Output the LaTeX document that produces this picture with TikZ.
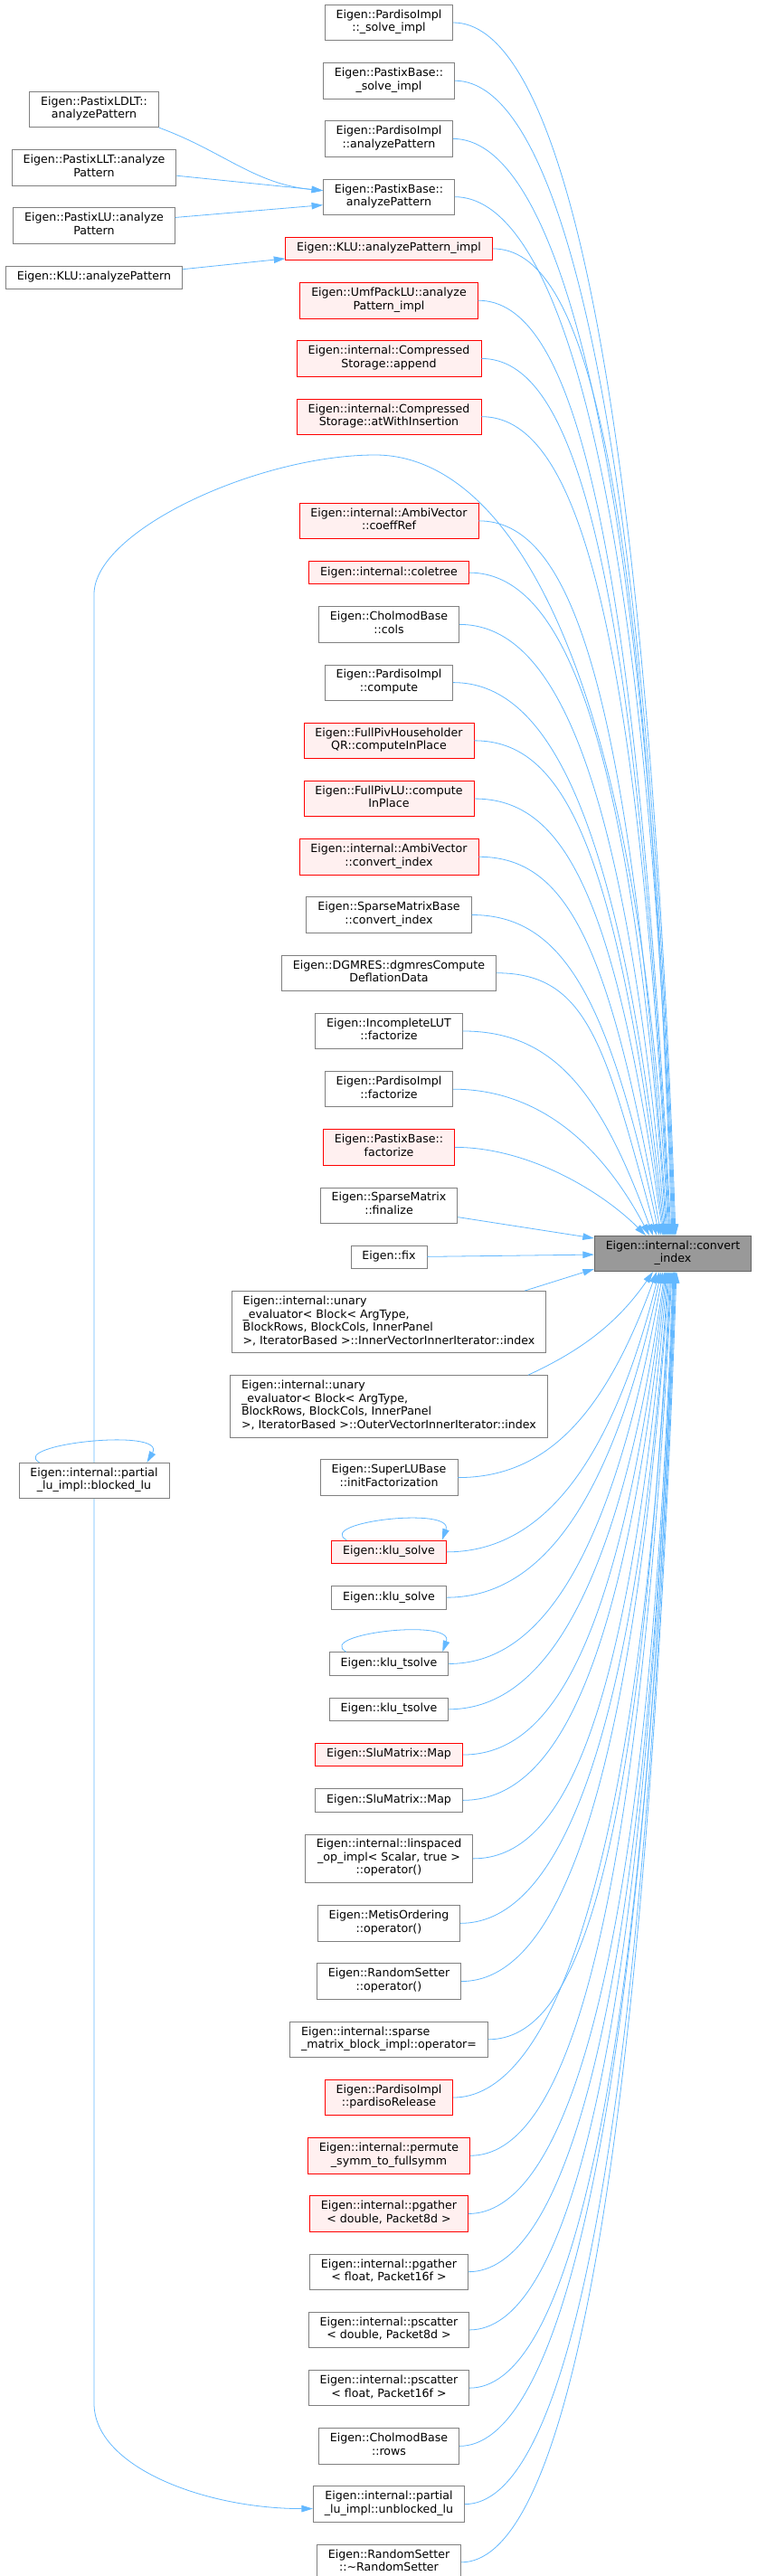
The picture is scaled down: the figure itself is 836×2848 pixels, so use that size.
\documentclass[tikz,border=0pt]{standalone}
\usepackage{fontspec}
\setmainfont{DejaVu Sans}
\usepackage{xcolor}
\usetikzlibrary{arrows.meta,positioning}
\definecolor{edgeblue}{HTML}{63B8FF}
\definecolor{boxgray}{HTML}{808080}
\definecolor{redfill}{HTML}{FFF0F0}
\definecolor{hubfill}{HTML}{999999}
\definecolor{hubline}{HTML}{666666}

\begin{document}
\begin{tikzpicture}[
  x=1pt,y=-1pt,
  font=\fontsize{12.6}{14.5}\selectfont,node distance=24pt,
  fn/.style={rectangle,draw=boxgray,fill=white,line width=0.8pt,align=center,inner xsep=12.5pt,inner ysep=5.5pt,
    execute at begin node=\strut,execute at end node=\strut},
  fnl/.style={fn,align=left},
  fr/.style={fn,draw=red,fill=redfill},
  hub/.style={fn,draw=hubline,fill=hubfill},
  ar/.style={-{Triangle[length=12.5pt,width=7.5pt]},draw=edgeblue,line width=0.8pt}
]
\useasboundingbox (0,0) rectangle (836,2848);

% callee
\node[hub] (ci) at (744,1386) {Eigen::internal::convert\\\_index};

% direct callers
\node[fn] (s1) at (430,25) {Eigen::PardisoImpl\\::\_solve\_impl};
\node[fn,below=of s1] (s2) {Eigen::PastixBase::\\\_solve\_impl};
\node[fn,below=of s2] (a1) {Eigen::PardisoImpl\\::analyzePattern};
\node[fn,below=of a1] (a2) {Eigen::PastixBase::\\analyzePattern};
\node[fr,below=of a2] (a3) {Eigen::KLU::analyzePattern\_impl};
\node[fr,below=of a3] (a4) {Eigen::UmfPackLU::analyze\\Pattern\_impl};
\node[fr,below=of a4] (cs1) {Eigen::internal::Compressed\\Storage::append};
\node[fr,below=of cs1] (cs2) {Eigen::internal::Compressed\\Storage::atWithInsertion};
\node[fr,below=75pt of cs2] (cr) {Eigen::internal::AmbiVector\\::coeffRef};
\node[fr,below=of cr] (ct) {Eigen::internal::coletree};
\node[fn,below=of ct] (cc) {Eigen::CholmodBase\\::cols};
\node[fn,below=of cc] (pc) {Eigen::PardisoImpl\\::compute};
\node[fr,below=of pc] (qr) {Eigen::FullPivHouseholder\\QR::computeInPlace};
\node[fr,below=of qr] (lu) {Eigen::FullPivLU::compute\\InPlace};
\node[fr,below=of lu] (av) {Eigen::internal::AmbiVector\\::convert\_index};
\node[fn,below=of av] (sm) {Eigen::SparseMatrixBase\\::convert\_index};
\node[fn,below=of sm] (dg) {Eigen::DGMRES::dgmresCompute\\DeflationData};
\node[fn,below=of dg] (il) {Eigen::IncompleteLUT\\::factorize};
\node[fn,below=of il] (pf) {Eigen::PardisoImpl\\::factorize};
\node[fr,below=of pf] (pb) {Eigen::PastixBase::\\factorize};
\node[fn,below=of pb] (fz) {Eigen::SparseMatrix\\::finalize};
\node[fn,below=of fz] (fx) {Eigen::fix};
\node[fnl,below=of fx] (u1) {Eigen::internal::unary\\\_evaluator< Block< ArgType,\\BlockRows, BlockCols, InnerPanel\\>, IteratorBased >::InnerVectorInnerIterator::index};
\node[fnl,below=of u1] (u2) {Eigen::internal::unary\\\_evaluator< Block< ArgType,\\BlockRows, BlockCols, InnerPanel\\>, IteratorBased >::OuterVectorInnerIterator::index};
\node[fn,below=of u2] (sl) {Eigen::SuperLUBase\\::initFactorization};
\node[fr,below=49pt of sl] (k1) {Eigen::klu\_solve};
\node[fn,below=of k1] (k2) {Eigen::klu\_solve};
\node[fn,below=47pt of k2] (t1) {Eigen::klu\_tsolve};
\node[fn,below=of t1] (t2) {Eigen::klu\_tsolve};
\node[fr,below=of t2] (m1) {Eigen::SluMatrix::Map};
\node[fn,below=of m1] (m2) {Eigen::SluMatrix::Map};
\node[fn,below=of m2] (ls) {Eigen::internal::linspaced\\\_op\_impl< Scalar, true >\\::operator()};
\node[fn,below=of ls] (mo) {Eigen::MetisOrdering\\::operator()};
\node[fn,below=of mo] (rs) {Eigen::RandomSetter\\::operator()};
\node[fnl,below=of rs] (sb) {Eigen::internal::sparse\\\_matrix\_block\_impl::operator=};
\node[fr,below=of sb] (pr) {Eigen::PardisoImpl\\::pardisoRelease};
\node[fr,below=of pr] (ps) {Eigen::internal::permute\\\_symm\_to\_fullsymm};
\node[fr,below=of ps] (g1) {Eigen::internal::pgather\\< double, Packet8d >};
\node[fn,below=of g1] (g2) {Eigen::internal::pgather\\< float, Packet16f >};
\node[fn,below=of g2] (c1) {Eigen::internal::pscatter\\< double, Packet8d >};
\node[fn,below=of c1] (c2) {Eigen::internal::pscatter\\< float, Packet16f >};
\node[fn,below=of c2] (rw) {Eigen::CholmodBase\\::rows};
\node[fn,below=of rw] (ub) {Eigen::internal::partial\\\_lu\_impl::unblocked\_lu};
\node[fn,below=of ub] (rd) {Eigen::RandomSetter\\::\textasciitilde RandomSetter};

% second level
\node[fn] (ldlt) at (104,121) {Eigen::PastixLDLT::\\analyzePattern};
\node[fn,below=of ldlt] (llt) {Eigen::PastixLLT::analyze\\Pattern};
\node[fn,below=of llt] (plu) {Eigen::PastixLU::analyze\\Pattern};
\node[fn,below=of plu] (klua) {Eigen::KLU::analyzePattern};
\node[fn] (bl) at (104,1637) {Eigen::internal::partial\\\_lu\_impl::blocked\_lu};
\coordinate (blt) at (415,503);

% edges into convert_index, from above
\draw[ar] (s1.east) .. controls ([xshift=100pt]s1.east) and ([xshift=-34pt,yshift=1059pt]ci.north) .. ([xshift=3pt]ci.north);
\draw[ar] (s2.east) .. controls ([xshift=100pt]s2.east) and ([xshift=-33pt,yshift=999pt]ci.north) .. ([xshift=2pt]ci.north);
\draw[ar] (a1.east) .. controls ([xshift=100pt]a1.east) and ([xshift=-32pt,yshift=949pt]ci.north) .. ([xshift=1pt]ci.north);
\draw[ar] (a2.east) .. controls ([xshift=100pt]a2.east) and ([xshift=-31pt,yshift=899pt]ci.north) .. (ci.north);
\draw[ar] (a3.east) .. controls ([xshift=100pt]a3.east) and ([xshift=-31pt,yshift=859pt]ci.north) .. ([xshift=-1pt]ci.north);
\draw[ar] (a4.east) .. controls ([xshift=100pt]a4.east) and ([xshift=-44pt,yshift=809pt]ci.north) .. ([xshift=-2pt]ci.north);
\draw[ar] (cs1.east) .. controls ([xshift=100pt]cs1.east) and ([xshift=-43pt,yshift=759pt]ci.north) .. ([xshift=-3pt]ci.north);
\draw[ar] (cs2.east) .. controls ([xshift=100pt]cs2.east) and ([xshift=-41pt,yshift=709pt]ci.north) .. ([xshift=-4pt]ci.north);
\draw[ar] (cr.east) .. controls ([xshift=100pt]cr.east) and ([xshift=-49pt,yshift=618pt]ci.north) .. ([xshift=-6pt]ci.north);
\draw[ar] (ct.east) .. controls ([xshift=100pt]ct.east) and ([xshift=-47pt,yshift=569pt]ci.north) .. ([xshift=-7pt]ci.north);
\draw[ar] (cc.east) .. controls ([xshift=100pt]cc.east) and ([xshift=-54pt,yshift=528pt]ci.north) .. ([xshift=-8pt]ci.north);
\draw[ar] (pc.east) .. controls ([xshift=100pt]pc.east) and ([xshift=-59pt,yshift=477pt]ci.north) .. ([xshift=-9pt]ci.north);
\draw[ar] (qr.east) .. controls ([xshift=100pt]qr.east) and ([xshift=-62pt,yshift=427pt]ci.north) .. ([xshift=-10pt]ci.north);
\draw[ar] (lu.east) .. controls ([xshift=100pt]lu.east) and ([xshift=-64pt,yshift=376pt]ci.north) .. ([xshift=-11pt]ci.north);
\draw[ar] (av.east) .. controls ([xshift=100pt]av.east) and ([xshift=-69pt,yshift=315pt]ci.north) .. ([xshift=-13pt]ci.north);
\draw[ar] (sm.east) .. controls ([xshift=100pt]sm.east) and ([xshift=-71pt,yshift=264pt]ci.north) .. ([xshift=-15pt]ci.north);
\draw[ar] (dg.east) .. controls ([xshift=100pt]dg.east) and ([xshift=-75pt,yshift=212pt]ci.north) .. ([xshift=-18pt]ci.north);
\draw[ar] (il.east) .. controls ([xshift=100pt]il.east) and ([xshift=-80pt,yshift=160pt]ci.north) .. ([xshift=-22pt]ci.north);
\draw[ar] (pf.east) .. controls ([xshift=90pt]pf.east) and ([xshift=-82pt,yshift=106pt]ci.north) .. ([xshift=-26pt]ci.north);
\draw[ar] (pb.east) .. controls ([xshift=80pt]pb.east) and ([xshift=-80pt,yshift=50pt]ci.north) .. ([xshift=-30pt]ci.north);
% from the side
\draw[ar] ([yshift=-13pt]fz.east) -- ([yshift=17pt]ci.west);
\draw[ar] (fx) -- (ci);
\draw[ar] ([xshift=-24pt]u1.north east) -- ([yshift=-17pt]ci.west);
% from below
\draw[ar] ([xshift=-22pt]u2.north east) .. controls ([xshift=39pt,yshift=28pt]u2.north east) and ([xshift=-60pt,yshift=-55pt]ci.south) .. ([xshift=-22pt]ci.south);
\draw[ar] (sl.east) .. controls ([xshift=100pt]sl.east) and ([xshift=-74pt,yshift=-155pt]ci.south) .. ([xshift=-18pt]ci.south);
\draw[ar] (k1.east) .. controls ([xshift=100pt]k1.east) and ([xshift=-71pt,yshift=-223pt]ci.south) .. ([xshift=-15pt]ci.south);
\draw[ar] (k2.east) .. controls ([xshift=100pt]k2.east) and ([xshift=-69pt,yshift=-264pt]ci.south) .. ([xshift=-13pt]ci.south);
\draw[ar] (t1.east) .. controls ([xshift=100pt]t1.east) and ([xshift=-67pt,yshift=-320pt]ci.south) .. ([xshift=-11pt]ci.south);
\draw[ar] (t2.east) .. controls ([xshift=100pt]t2.east) and ([xshift=-61pt,yshift=-366pt]ci.south) .. ([xshift=-9pt]ci.south);
\draw[ar] (m1.east) .. controls ([xshift=100pt]m1.east) and ([xshift=-58pt,yshift=-407pt]ci.south) .. ([xshift=-8pt]ci.south);
\draw[ar] (m2.east) .. controls ([xshift=100pt]m2.east) and ([xshift=-54pt,yshift=-448pt]ci.south) .. ([xshift=-7pt]ci.south);
\draw[ar] (ls.east) .. controls ([xshift=100pt]ls.east) and ([xshift=-50pt,yshift=-498pt]ci.south) .. ([xshift=-6pt]ci.south);
\draw[ar] (mo.east) .. controls ([xshift=100pt]mo.east) and ([xshift=-44pt,yshift=-554pt]ci.south) .. ([xshift=-5pt]ci.south);
\draw[ar] (rs.east) .. controls ([xshift=100pt]rs.east) and ([xshift=-46pt,yshift=-604pt]ci.south) .. ([xshift=-4pt]ci.south);
\draw[ar] (sb.east) .. controls ([xshift=100pt]sb.east) and ([xshift=-37pt,yshift=-654pt]ci.south) .. ([xshift=-3pt]ci.south);
\draw[ar] (pr.east) .. controls ([xshift=100pt]pr.east) and ([xshift=-39pt,yshift=-704pt]ci.south) .. ([xshift=-2pt]ci.south);
\draw[ar] (ps.east) .. controls ([xshift=100pt]ps.east) and ([xshift=-40pt,yshift=-754pt]ci.south) .. ([xshift=-1pt]ci.south);
\draw[ar] (g1.east) .. controls ([xshift=100pt]g1.east) and ([xshift=-28pt,yshift=-804pt]ci.south) .. (ci.south);
\draw[ar] (g2.east) .. controls ([xshift=100pt]g2.east) and ([xshift=-29pt,yshift=-854pt]ci.south) .. ([xshift=1pt]ci.south);
\draw[ar] (c1.east) .. controls ([xshift=100pt]c1.east) and ([xshift=-31pt,yshift=-904pt]ci.south) .. ([xshift=1pt]ci.south);
\draw[ar] (c2.east) .. controls ([xshift=100pt]c2.east) and ([xshift=-31pt,yshift=-954pt]ci.south) .. ([xshift=2pt]ci.south);
\draw[ar] (rw.east) .. controls ([xshift=100pt]rw.east) and ([xshift=-33pt,yshift=-1004pt]ci.south) .. ([xshift=2pt]ci.south);
\draw[ar] (ub.east) .. controls ([xshift=100pt]ub.east) and ([xshift=-34pt,yshift=-1054pt]ci.south) .. ([xshift=3pt]ci.south);
\draw[ar] (rd.east) .. controls ([xshift=100pt]rd.east) and ([xshift=-35pt,yshift=-1104pt]ci.south) .. ([xshift=4pt]ci.south);

% second level edges
\draw[ar] (ldlt.south east) .. controls ([xshift=71pt,yshift=-26pt]ldlt.south east) and ([xshift=-76pt,yshift=14pt]a2.west) .. ([yshift=7pt]a2.west);
\draw[ar] ([yshift=-9pt]llt.east) -- ([yshift=7pt]a2.west);
\draw[ar] ([yshift=9pt]plu.east) -- ([yshift=-9pt]a2.west);
\draw[ar] ([yshift=9pt]klua.east) -- ([yshift=-11pt]a3.west);
\draw[ar] (bl.north) -- ++(0,-960) .. controls +(0,-70) and ([xshift=-130pt]blt) .. (blt)
  .. controls ([xshift=130pt]blt) and ([xshift=-41pt,yshift=679pt]ci.north) .. ([xshift=-5pt]ci.north);
\draw[ar] (bl.south) -- ++(0,1000) .. controls +(0,70) and ([xshift=-120pt,yshift=-5pt]ub.west) .. ([yshift=-5pt]ub.west);

% recursive calls
\draw[ar] ([xshift=23pt]bl.north west) .. controls ([xshift=-11.6pt,yshift=20pt]bl.north west) and ([xshift=-2.5pt,yshift=39pt]bl.north east) .. ([xshift=-25pt]bl.north east);
\draw[ar] ([xshift=17pt]k1.north west) .. controls ([xshift=-17.6pt,yshift=20pt]k1.north west) and ([xshift=8.7pt,yshift=37.6pt]k1.north east) .. ([xshift=-5pt]k1.north east);
\draw[ar] ([xshift=19pt]t1.north west) .. controls ([xshift=-15.6pt,yshift=20pt]t1.north west) and ([xshift=6.7pt,yshift=37.6pt]t1.north east) .. ([xshift=-7pt]t1.north east);
\end{tikzpicture}
\end{document}
